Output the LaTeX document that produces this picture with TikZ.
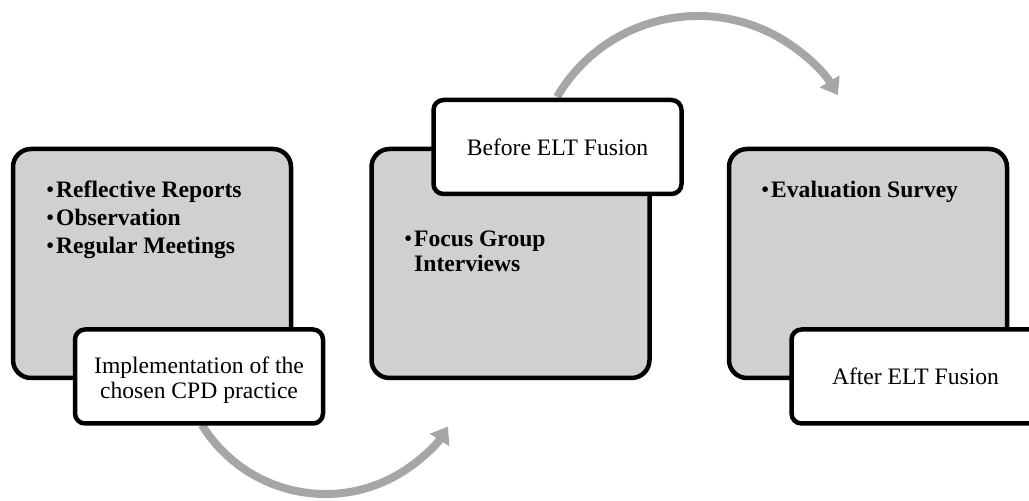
\documentclass[tikz,border=0pt]{standalone}
\usepackage{fontspec}
\setmainfont{Liberation Serif}
\usetikzlibrary{arrows.meta}
\definecolor{boxgray}{HTML}{D0D0D0}
\definecolor{arrowgray}{HTML}{A6A6A6}
\newcommand\bitem[1]{\par\hangindent=10pt\hangafter=1\noindent\makebox[10pt][l]{\mdseries\textbullet}#1}
\tikzset{
  graybox/.style={draw=black, line width=4.5pt, fill=boxgray, rounded corners=18pt,
    minimum width=278pt, minimum height=229pt, inner sep=0pt},
  labelbox/.style={draw=black, line width=4.5pt, fill=white, rounded corners=10pt,
    minimum width=248pt, minimum height=94pt, inner sep=0pt, align=center,
    font=\fontsize{23.6}{24.4}\selectfont},
  bullettext/.style={anchor=base west, inner sep=0pt,
    font=\fontsize{23.6}{24.4}\selectfont\bfseries},
  cyclearrow/.style={draw=arrowgray, line width=8pt, -{Triangle[width=22pt,length=16pt]}}
}
\newcommand\blist[2]{\begin{minipage}[t]{#1}\setlength\parskip{3.6pt}\setlength\baselineskip{24.4pt}#2\end{minipage}}
\begin{document}
\begin{tikzpicture}[x=1pt,y=1pt]
\useasboundingbox (0,0) rectangle (1029,501);
\clip (0,0) rectangle (1029,501);
% arrows
\path (325.5,152) ++(211.6:145) coordinate (a1s);
\path (698,321.8) ++(149.7:163.2) coordinate (a2s);
\draw[cyclearrow] (a1s) arc[start angle=211.6, end angle=327.7, radius=145];
\draw[cyclearrow] (a2s) arc[start angle=149.7, end angle=31, radius=163.2];
% gray boxes
\node[graybox] (b1) at (152,237.5) {};
\node[labelbox] (l1) at (199,124.5) {\rule{0pt}{24pt}Implementation of the\\chosen CPD practice};
\node[graybox] (b2) at (510.5,237.5) {};
\node[labelbox] (l2) at (557.5,354) {Before ELT Fusion};
\node[graybox] (b3) at (868,237.5) {};
\node[labelbox] (l3) at (915.5,124.5) {After ELT Fusion};
% bullet texts
\node[bullettext] (t1) at (46,303) {\blist{230pt}{\bitem{Reflective Reports}\bitem{Observation}\bitem{Regular Meetings}}};
\node[bullettext] (t2) at (404,254) {\blist{230pt}{\bitem{Focus Group\\Interviews}}};
\node[bullettext] (t3) at (761,303) {\blist{230pt}{\bitem{Evaluation Survey}}};
\end{tikzpicture}
\end{document}
